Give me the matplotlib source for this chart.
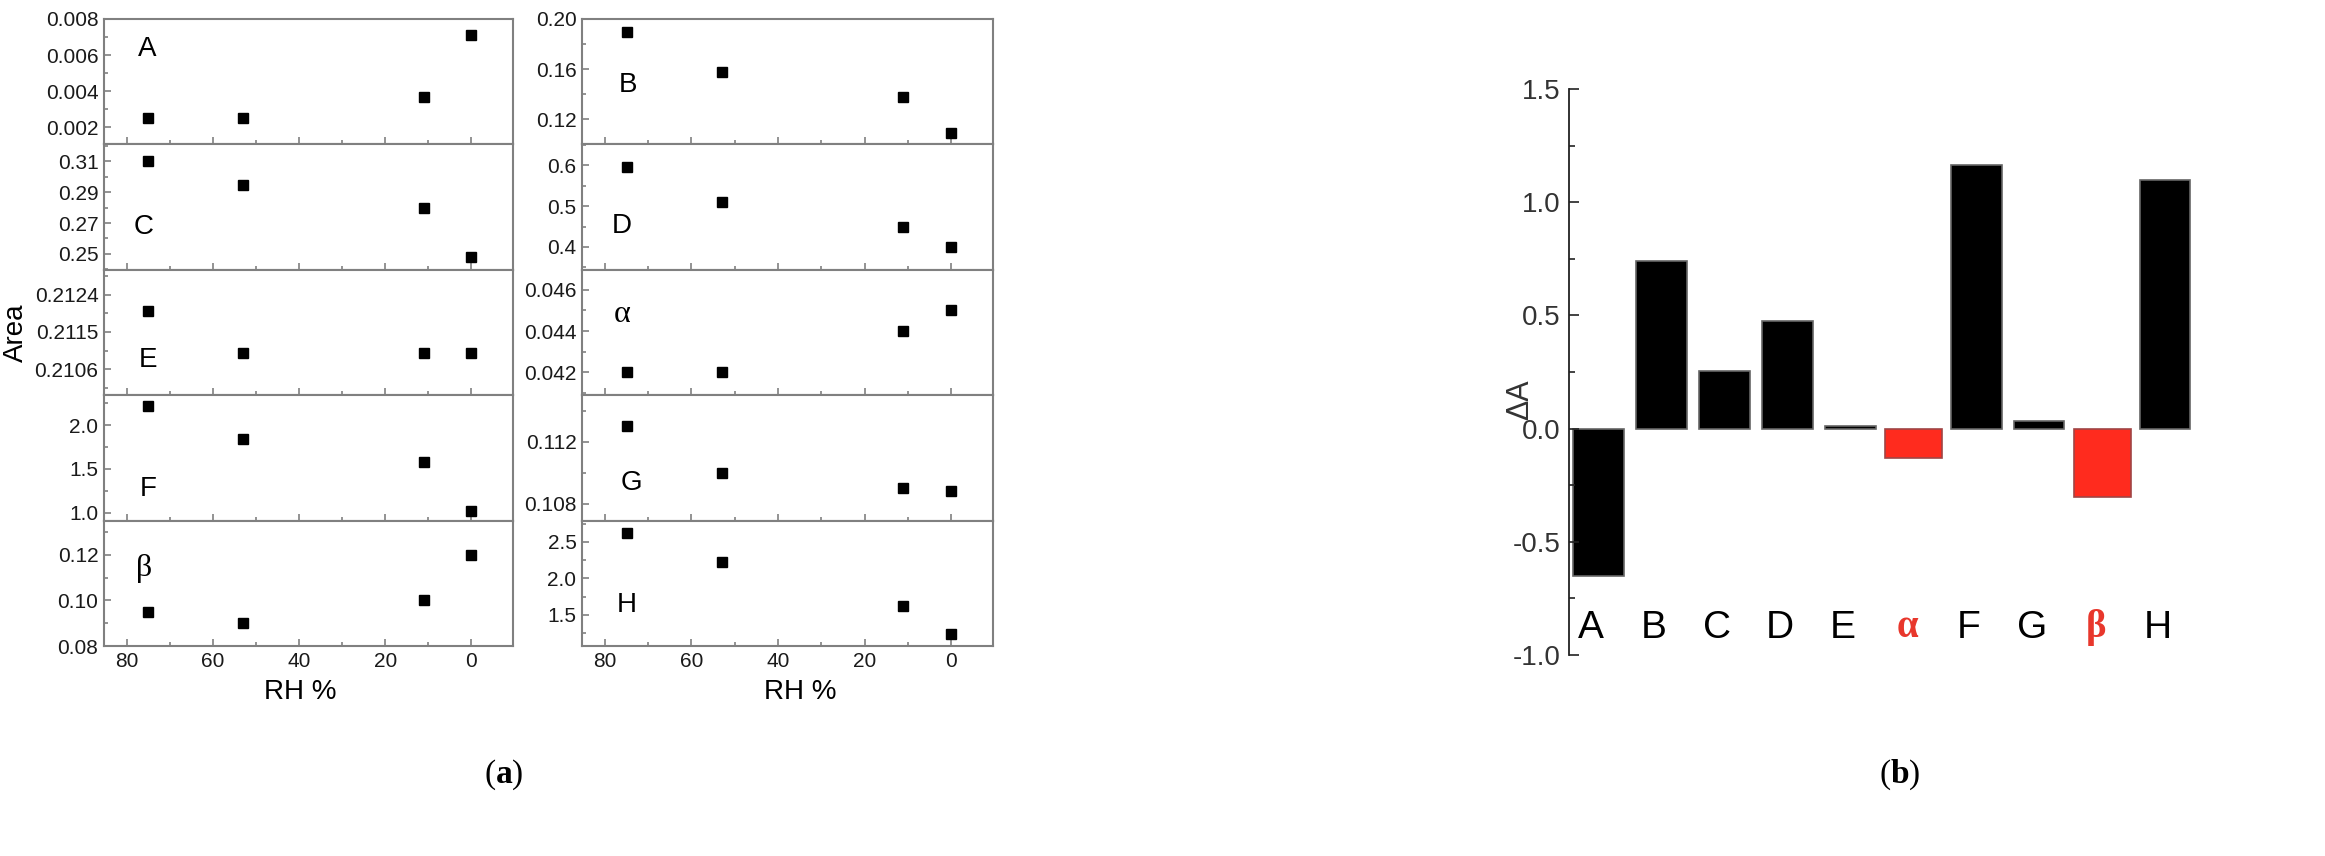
import matplotlib.pyplot as plt
from matplotlib.ticker import MultipleLocator

plt.rcParams['font.family'] = ['Liberation Sans', 'DejaVu Sans']

# relative humidity of the four measurements
rh = [75, 53, 11, 0]
rh_ticks = [80, 60, 40, 20, 0]

# band areas
area_A = [0.0025, 0.0025, 0.0037, 0.0071]
area_C = [0.310, 0.295, 0.280, 0.248]
area_E = [0.2120, 0.2110, 0.2110, 0.2110]
area_F = [2.22, 1.84, 1.58, 1.02]
area_beta = [0.095, 0.090, 0.100, 0.120]
area_B = [0.190, 0.158, 0.138, 0.109]
area_D = [0.595, 0.510, 0.450, 0.400]
area_alpha = [0.042, 0.042, 0.044, 0.045]
area_G = [0.1130, 0.1100, 0.1090, 0.1088]
area_H = [2.62, 2.23, 1.62, 1.24]

# y tick labels of each small panel
ticks_A = ['0.002', '0.004', '0.006', '0.008']
ticks_C = ['0.25', '0.27', '0.29', '0.31']
ticks_E = ['0.2106', '0.2115', '0.2124']
ticks_F = ['1.0', '1.5', '2.0']
ticks_beta = ['0.08', '0.10', '0.12']
ticks_B = ['0.12', '0.16', '0.20']
ticks_D = ['0.4', '0.5', '0.6']
ticks_alpha = ['0.042', '0.044', '0.046']
ticks_G = ['0.108', '0.112']
ticks_H = ['1.5', '2.0', '2.5']

# panel (b): change of area
delta_names = ['A', 'B', 'C', 'D', 'E', 'α', 'F', 'G', 'β', 'H']
delta_area = [-0.65, 0.74, 0.255, 0.475, 0.01, -0.13, 1.165, 0.035, -0.30, 1.10]
delta_ticks = ['-1.0', '-0.5', '0.0', '0.5', '1.0', '1.5']

# layout: name, values, ticks, ylim, minor step, label position (axes fraction)
left_col = [
    ('A', area_A, ticks_A, (0.00105, 0.008), 0.001, (0.105, 0.76)),
    ('C', area_C, ticks_C, (0.2397, 0.321), 0.01, (0.098, 0.34)),
    ('E', area_E, ticks_E, (0.20997, 0.2130), 0.00045, (0.107, 0.28)),
    ('F', area_F, ticks_F, (0.908, 2.345), 0.25, (0.107, 0.25)),
    ('β', area_beta, ticks_beta, (0.08, 0.135), 0.01, (0.098, 0.62)),
]
right_col = [
    ('B', area_B, ticks_B, (0.10, 0.20), 0.02, (0.112, 0.47)),
    ('D', area_D, ticks_D, (0.344, 0.651), 0.05, (0.097, 0.35)),
    ('α', area_alpha, ticks_alpha, (0.0409, 0.04696), 0.001, (0.097, 0.64)),
    ('G', area_G, ticks_G, (0.1069, 0.115), 0.002, (0.12, 0.30)),
    ('H', area_H, ticks_H, (1.075, 2.79), 0.25, (0.11, 0.33)),
]

W, H = 2325, 856
fig = plt.figure(figsize=(W / 100, H / 100), dpi=100)

top_px, row_px = 19, 125.4
spine_col = '#808080'
for x0, x1, col in [(104, 513, left_col), (582, 993, right_col)]:
    for i, (name, vals, ticks, ylim, minor, lpos) in enumerate(col):
        y_top = top_px + i * row_px
        ax = fig.add_axes([x0 / W, 1 - (y_top + row_px) / H, (x1 - x0) / W, row_px / H])
        ax.plot(rh, vals, 's', color='black', markersize=7)
        ax.set_xlim(85.3, -9.7)
        ax.set_ylim(*ylim)
        ax.set_xticks(rh_ticks)
        ax.xaxis.set_minor_locator(MultipleLocator(10))
        ax.set_yticks([float(t) for t in ticks], ticks)
        ax.yaxis.set_minor_locator(MultipleLocator(minor))
        ax.tick_params(which='both', direction='in', colors=spine_col,
                       labelcolor='#1a1a1a', labelsize=15, width=1.2)
        ax.tick_params(which='major', length=5, pad=4)
        ax.tick_params(which='minor', length=3)
        if i < len(col) - 1:
            ax.tick_params(axis='x', labelbottom=False)
        for s in ax.spines.values():
            s.set_color(spine_col)
            s.set_linewidth(1.5)
        if name in ('α', 'β'):
            ax.text(*lpos, name, transform=ax.transAxes, ha='center', va='center',
                    fontsize=23, family=['Liberation Serif', 'DejaVu Serif'])
        else:
            ax.text(*lpos, name, transform=ax.transAxes, ha='center', va='center',
                    fontsize=20)

fig.text(300 / W, 1 - 692 / H, 'RH %', ha='center', va='center', fontsize=20)
fig.text(800 / W, 1 - 692 / H, 'RH %', ha='center', va='center', fontsize=20)
fig.text(16 / W, 1 - 333 / H, 'Area', ha='center', va='center', rotation=90, fontsize=20)

# panel (b)
bx0, bx1 = 1569, 2203
by_top, by_bot = 89, 655
axb = fig.add_axes([bx0 / W, 1 - by_bot / H, (bx1 - bx0) / W, (by_bot - by_top) / H])
pos = list(range(len(delta_names)))
red_names = ('α', 'β')
colors = ['#ff2b1e' if n in red_names else 'black' for n in delta_names]
edges = ['#a04545' if n in red_names else '#666666' for n in delta_names]
widths = [0.9 if n in red_names else 0.8 for n in delta_names]
axb.bar(pos, delta_area, width=widths, color=colors, edgecolor=edges, linewidth=1.2)
axb.set_xlim(-0.47, 9.6)
axb.set_ylim(-1.0, 1.5)
axb.set_yticks([float(t) for t in delta_ticks], delta_ticks)
axb.yaxis.set_minor_locator(MultipleLocator(0.25))
axb.set_xticks([])
for s in ['top', 'right', 'bottom']:
    axb.spines[s].set_visible(False)
axb.spines['left'].set_color('#222222')
axb.spines['left'].set_linewidth(1.3)
axb.tick_params(axis='y', which='both', direction='in', colors='#222222',
                labelcolor='#333333', labelsize=20, width=1.2)
axb.tick_params(axis='y', which='major', length=7, pad=6)
axb.tick_params(axis='y', which='minor', length=4)
for p, n in zip(pos, delta_names):
    if n in red_names:
        axb.text(p - 0.1, -0.88, n, ha='center', va='center', fontsize=28, color='#e8372c',
                 fontweight='bold', family=['Liberation Serif', 'DejaVu Serif'])
    else:
        axb.text(p - 0.12, -0.88, n, ha='center', va='center', fontsize=28)
fig.text(1520 / W, 1 - 400 / H, 'ΔA', ha='center', va='center', rotation=90,
         fontsize=22, color='#333333')

plt.rcParams['mathtext.fontset'] = 'custom'
plt.rcParams['mathtext.bf'] = 'Liberation Serif:bold'
for lab, xc in [('a', 504), ('b', 1900)]:
    fig.text(xc / W, 1 - 775 / H, '(' + r'$\mathbf{' + lab + '}$' + ')', ha='center',
             va='center', fontsize=24, family=['Liberation Serif', 'DejaVu Serif'])

fig.savefig('out.png', dpi=100)
